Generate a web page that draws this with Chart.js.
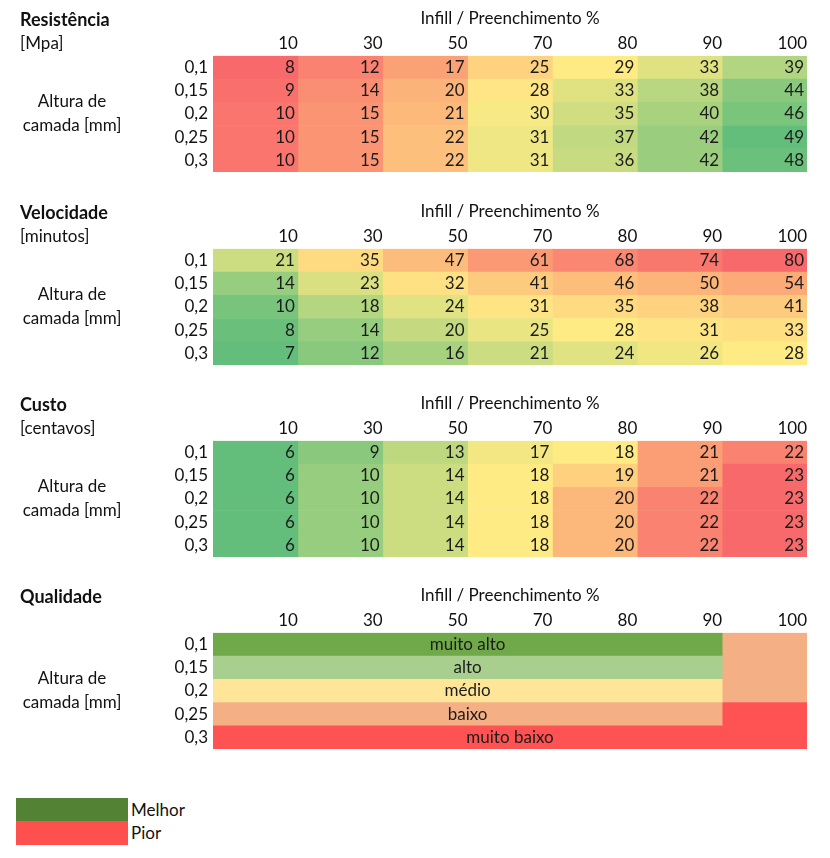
<!DOCTYPE html>
<html>
<head>
<meta charset="utf-8">
<script src="https://cdn.jsdelivr.net/npm/chart.js@4"></script>
<style>
body { margin: 0; background: #fff; }
#page { position: relative; width: 830px; height: 858px; font-family: Lato, sans-serif; color: #111; }
canvas.tbl { position: absolute; left: 0; }
.key { position: absolute; left: 16px; width: 112px; }
.keytext { position: absolute; left: 131px; font-size: 17px; line-height: 23px; }
</style>
</head>
<body>
<div id="page">
  <canvas id="resistencia" class="tbl" width="830" height="192" style="top:0px"></canvas>
  <canvas id="velocidade" class="tbl" width="830" height="192" style="top:193px"></canvas>
  <canvas id="custo" class="tbl" width="830" height="192" style="top:385px"></canvas>
  <canvas id="qualidade" class="tbl" width="830" height="192" style="top:577px"></canvas>
  <div id="legend"></div>
</div>
<script>
var infill = ["10", "30", "50", "70", "80", "90", "100"];
var camadas = ["0,1", "0,15", "0,2", "0,25", "0,3"];

var resistencia = [
    [8, 12, 17, 25, 29, 33, 39],
    [9, 14, 20, 28, 33, 38, 44],
    [10, 15, 21, 30, 35, 40, 46],
    [10, 15, 22, 31, 37, 42, 49],
    [10, 15, 22, 31, 36, 42, 48],
];
var velocidade = [
    [21, 35, 47, 61, 68, 74, 80],
    [14, 23, 32, 41, 46, 50, 54],
    [10, 18, 24, 31, 35, 38, 41],
    [8, 14, 20, 25, 28, 31, 33],
    [7, 12, 16, 21, 24, 26, 28],
];
var custo = [
    [6, 9, 13, 17, 18, 21, 22],
    [6, 10, 14, 18, 19, 21, 23],
    [6, 10, 14, 18, 20, 22, 23],
    [6, 10, 14, 18, 20, 22, 23],
    [6, 10, 14, 18, 20, 22, 23],
];

// qualidade: merged text cell per row, plus the 100% column
var qualidadeNiveis = ["muito alto", "alto", "médio", "baixo", "muito baixo"];
var qualidadeColunas = [6, 6, 6, 6, 7];
var qualidade100 = ["baixo", "baixo", "baixo", "muito baixo", null];

var legendLabels = ["Melhor", "Pior"];

var nivelCores = {
    "muito alto": "#6fa949",
    "alto": "#a9cf8e",
    "médio": "#ffe598",
    "baixo": "#f4b084",
    "muito baixo": "#ff5252",
};
var legendCores = ["#548235", "#ff5050"];

var FONT = "Lato";
var SIZE = 17;
var RED = [248, 105, 107], YEL = [255, 235, 132], GRN = [99, 190, 123];

function mix(a, b, t) {
    return "rgb(" + a.map(function (v, k) { return Math.round(v + (b[k] - v) * t); }).join(",") + ")";
}

// Excel-like 3 colour scale: min / median / max
function colorScale(rows, higherIsBetter) {
    var flat = rows.flat().sort(function (a, b) { return a - b; });
    var min = flat[0], max = flat[flat.length - 1], mid = flat[Math.floor(flat.length / 2)];
    var lo = higherIsBetter ? RED : GRN;
    var hi = higherIsBetter ? GRN : RED;
    return function (v) {
        if (v <= mid) return mix(lo, YEL, (v - min) / (mid - min));
        return mix(YEL, hi, (v - mid) / (max - mid));
    };
}

function cellDatasets(rows, colorOf) {
    return infill.map(function (c, i) {
        return {
            label: c,
            data: rows.map(function () { return [i, i + 1]; }),
            texts: rows.map(function (r) { return String(r[i]); }),
            backgroundColor: rows.map(function (r) { return colorOf(r[i]); }),
        };
    });
}

var sideText = {
    id: "sideText",
    afterDraw: function (chart, args, opts) {
        var ctx = chart.ctx, area = chart.chartArea;
        ctx.save();
        ctx.fillStyle = "#111";
        ctx.textBaseline = "middle";
        ctx.textAlign = "left";
        ctx.font = "bold 18px " + FONT;
        ctx.fillText(opts.heading, 20, area.top - 36);
        ctx.font = SIZE + "px " + FONT;
        if (opts.unit) ctx.fillText(opts.unit, 20, area.top - 12);
        var mid = (chart.scales.y.top + chart.scales.y.bottom) / 2;
        ctx.textAlign = "center";
        ctx.fillText("Altura de", 72, mid - 12);
        ctx.fillText("camada [mm]", 72, mid + 12);
        ctx.restore();
    },
};

var cellText = {
    id: "cellText",
    afterDatasetsDraw: function (chart, args, opts) {
        var ctx = chart.ctx;
        ctx.save();
        ctx.font = SIZE + "px " + FONT;
        ctx.fillStyle = "#1c1c1c";
        ctx.textBaseline = "middle";
        chart.data.datasets.forEach(function (ds, di) {
            chart.getDatasetMeta(di).data.forEach(function (bar, j) {
                var txt = ds.texts && ds.texts[j];
                if (!txt) return;
                if (opts.center) {
                    ctx.textAlign = "center";
                    ctx.fillText(txt, (bar.x + bar.base) / 2, bar.y);
                } else {
                    ctx.textAlign = "right";
                    ctx.fillText(txt, Math.max(bar.x, bar.base) - 3, bar.y);
                }
            });
        });
        ctx.restore();
    },
};

function makeTable(id, datasets, heading, unit, centered) {
    new Chart(document.getElementById(id), {
        type: "bar",
        data: { labels: camadas, datasets: datasets },
        options: {
            indexAxis: "y",
            responsive: false,
            animation: false,
            events: [],
            layout: { padding: { top: 8, right: 23, bottom: 20, left: 0 } },
            datasets: {
                bar: { grouped: false, categoryPercentage: 1, barPercentage: 1, borderWidth: 0 },
            },
            scales: {
                x: {
                    type: "linear",
                    position: "top",
                    min: 0,
                    max: 7,
                    grid: { display: false, drawTicks: false },
                    border: { display: false },
                    afterBuildTicks: function (scale) {
                        scale.ticks = infill.map(function (c, i) { return { value: i + 1 }; });
                    },
                    ticks: {
                        align: "end",
                        padding: 2,
                        maxRotation: 0,
                        autoSkip: false,
                        color: "#111",
                        font: { family: FONT, size: SIZE },
                        callback: function (value) { return infill[value - 1]; },
                    },
                    title: {
                        display: true,
                        text: "Infill / Preenchimento %",
                        color: "#111",
                        font: { family: FONT, size: SIZE },
                        padding: { top: 0, bottom: 3 },
                    },
                },
                y: {
                    type: "category",
                    grid: { display: false, drawTicks: false },
                    border: { display: false },
                    afterFit: function (scale) { scale.width = 213; },
                    ticks: {
                        padding: 5,
                        autoSkip: false,
                        color: "#111",
                        font: { family: FONT, size: SIZE },
                    },
                },
            },
            plugins: {
                legend: { display: false },
                tooltip: { enabled: false },
                sideText: { heading: heading, unit: unit },
                cellText: { center: centered },
            },
        },
        plugins: [sideText, cellText],
    });
}

makeTable("resistencia", cellDatasets(resistencia, colorScale(resistencia, true)), "Resistência", "[Mpa]", false);
makeTable("velocidade", cellDatasets(velocidade, colorScale(velocidade, false)), "Velocidade", "[minutos]", false);
makeTable("custo", cellDatasets(custo, colorScale(custo, false)), "Custo", "[centavos]", false);

makeTable("qualidade", [
    {
        label: "qualidade",
        data: qualidadeColunas.map(function (n) { return [0, n]; }),
        texts: qualidadeNiveis,
        backgroundColor: qualidadeNiveis.map(function (n) { return nivelCores[n]; }),
    },
    {
        label: "100",
        data: qualidade100.map(function (n) { return n ? [6, 7] : null; }),
        backgroundColor: qualidade100.map(function (n) { return n ? nivelCores[n] : "transparent"; }),
    },
], "Qualidade", "", true);

var legendDiv = document.getElementById("legend");
legendLabels.forEach(function (label, i) {
    var box = document.createElement("div");
    box.className = "key";
    box.style.top = (798 + i * 23) + "px";
    box.style.height = (i === 0 ? 23 : 24) + "px";
    box.style.background = legendCores[i];
    legendDiv.appendChild(box);
    var txt = document.createElement("div");
    txt.className = "keytext";
    txt.style.top = (798 + i * 23) + "px";
    txt.textContent = label;
    legendDiv.appendChild(txt);
});
</script>
</body>
</html>
